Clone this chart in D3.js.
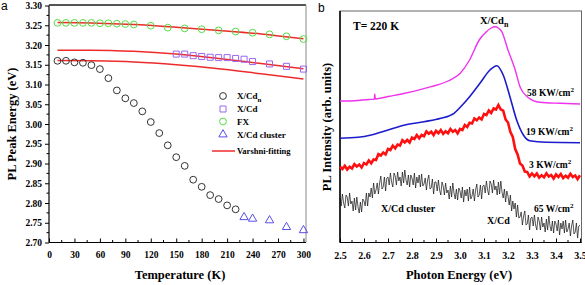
<!DOCTYPE html>
<html>
<head>
<meta charset="utf-8">
<script src="https://cdn.jsdelivr.net/npm/d3@7"></script>
<style>
  body { margin: 0; background: #fff; }
  text { font-family: "Liberation Serif", "Times New Roman", serif; font-weight: bold; }
</style>
</head>
<body>
<svg width="585" height="285"></svg>
<script>
// ---- panel a data (Temperature K, PL peak energy eV) ----
var cdnT = [10,20,30,40,50,60,70,80,90,100,110,120,130,140,150,160,170,180,190,200,210,220];
var cdnE = [3.160,3.160,3.156,3.155,3.149,3.139,3.116,3.085,3.065,3.053,3.032,3.005,2.977,2.946,2.916,2.894,2.859,2.841,2.820,2.810,2.794,2.784];
var cdT = [150,160,170,180,190,200,210,220,230,240,260,280,300];
var cdE = [3.177,3.177,3.173,3.171,3.169,3.168,3.168,3.166,3.164,3.158,3.152,3.146,3.139];
var fxT = [10,20,30,40,50,60,70,80,90,100,120,140,160,180,200,220,240,260,280,300];
var fxE = [3.256,3.256,3.256,3.256,3.256,3.255,3.255,3.254,3.253,3.252,3.249,3.244,3.242,3.240,3.237,3.234,3.231,3.227,3.222,3.215];
var clT = [230,240,260,280,300];
var clE = [2.764,2.760,2.756,2.739,2.731];
var fitT = [10,50,100,150,200,250,300];
var fitFX = [3.257,3.256,3.252,3.245,3.237,3.228,3.216];
var fitCd = [3.187,3.187,3.184,3.177,3.166,3.153,3.140];
var fitCdn = [3.161,3.160,3.157,3.150,3.140,3.127,3.114];
var tempTicks = [0,30,60,90,120,150,180,210,240,270,300];
var energyTicks = [2.70,2.75,2.80,2.85,2.90,2.95,3.00,3.05,3.10,3.15,3.20,3.25,3.30];

// ---- panel b data (photon energy eV, intensity arb. units) ----
var magE = [2.50,2.56,2.62,2.643,2.645,2.647,2.70,2.77,2.88,2.95,3.00,3.04,3.08,3.11,3.13,3.146,3.16,3.174,3.20,3.23,3.25,3.28,3.333,3.417,3.50];
var magI = [140,140.3,141.5,141.8,147,142,144.5,147.7,154.3,160,167.5,181,201,209.3,213,214.3,213,209.3,191,171,154.3,144.3,138.7,137.7,137];
var bluE = [2.50,2.575,2.63,2.70,2.77,2.85,2.92,2.975,3.00,3.04,3.083,3.125,3.153,3.18,3.208,3.236,3.264,3.29,3.36,3.50];
var bluI = [102.7,103.7,106,111,116,119.3,122.7,127.7,133.5,144.3,157.7,171,175.3,166,144.3,121,106,100.3,98.7,98.3];
// red trace sampled every 0.01 eV, 2.50 .. 3.50
var redI = [74.2,72,75.3,71.5,74.3,72.5,76.8,74.5,76.5,73.5,
            78,76.5,80.5,77.7,81.5,81,86.8,85.5,88.5,86.5,
            92,91,95.3,92.7,96.5,95.5,100.8,98.5,101,98.5,
            103.5,102,106,102.7,106,104.8,109.5,107.2,109.3,106,
            110.2,107.8,111,107.1,109.7,107.8,112,109.2,111,107.7,
            112,111,116,114,118.2,117.5,122.5,120.7,123.5,121.5,
            127,126,130.5,128,132.5,131.5,136,131.5,130.3,121.5,
            118.5,109,104,92,86.5,77.5,75.5,69.5,69,64.5,
            67.5,64.7,67.5,63.4,65.8,63.7,67.7,64.5,66,62.5,
            66.5,64,67,62.9,65.3,63.2,67.1,64,65.5,61.9,65.8];
// black trace sampled every 0.005 eV, 2.500 .. 3.500
var blkI = [43,35,47,38,33,46,44,35,48,37, 40,30,43,31,44,34,28,39,29,42,
            40,35,48,35,48,44,53,43,58,47, 51,58,47,58,65,52,54,64,50,63,
            64,56,68,59,54,68,65,56,69,60, 64,55,69,58,71,61,56,66,54,66,
            63,56,68,53,64,58,66,54,67,55, 57,63,51,61,66,52,53,62,47,59,
            59,50,61,51,46,59,55,46,58,48, 51,42,55,44,58,48,42,52,41,53,
            50,43,54,39,51,45,52,40,54,42, 45,52,40,51,57,44,46,56,42,55,
            56,48,60,51,46,60,57,48,61,51, 55,46,59,47,60,49,43,52,39,50,
            45,36,46,30,40,32,38,24,36,23, 24,29,16,25,30,16,17,26,11,23,
            24,15,26,16,11,24,20,11,24,14, 18,9,22,11,25,15,10,20,8,20,
            17,10,21,6,18,12,20,8,21,9, 12,18,5,15,21,7,9,18,3,15, 16];
var photonTicks = [2.5,2.6,2.7,2.8,2.9,3.0,3.1,3.2,3.3,3.4,3.5];

var svg = d3.select("svg");

function styleTicks(sel, size) {
  sel.selectAll("text").attr("font-size", size)
    .style("font-family", "Liberation Serif").style("font-weight", "bold").attr("fill", "#000");
}

// ================= panel a =================
var xa = d3.scaleLinear().domain([0, 303]).range([49, 306]);
var ya = d3.scaleLinear().domain([2.70, 3.30]).range([242.5, 5.5]);

// frame
svg.append("line").attr("x1", 49).attr("x2", 306).attr("y1", 5).attr("y2", 5)
  .attr("stroke", "#555").attr("stroke-width", 2);
svg.append("line").attr("x1", 306).attr("x2", 306).attr("y1", 5).attr("y2", 242.5)
  .attr("stroke", "#888").attr("stroke-width", 1);

// minor ticks
var ga = svg.append("g");
d3.range(15, 300, 30).forEach(function(t) {
  ga.append("line").attr("x1", xa(t)).attr("x2", xa(t)).attr("y1", 242.5).attr("y2", 240)
    .attr("stroke", "#000");
});
d3.range(2.725, 3.3, 0.05).forEach(function(v) {
  ga.append("line").attr("x1", 49).attr("x2", 46.5).attr("y1", ya(v)).attr("y2", ya(v))
    .attr("stroke", "#000");
});

svg.append("g").attr("transform", "translate(0,242.5)")
  .call(d3.axisBottom(xa).tickValues(tempTicks).tickSize(-4).tickPadding(9).tickFormat(d3.format("d")))
  .call(function(g) { g.select(".domain").attr("d", "M49,0H306").attr("stroke-width", 1.2); })
  .call(styleTicks, 9.5);

svg.append("g").attr("transform", "translate(49,0)")
  .call(d3.axisLeft(ya).tickValues(energyTicks).tickSize(4).tickPadding(3).tickFormat(d3.format(".2f")))
  .call(function(g) { g.select(".domain").attr("d", "M0,5.5V242.5").attr("stroke-width", 1.2); })
  .call(styleTicks, 9.5);

// fits
var fitLine = d3.line().curve(d3.curveMonotoneX)
  .x(function(d) { return xa(d[0]); }).y(function(d) { return ya(d[1]); });
[fitFX, fitCd, fitCdn].forEach(function(s) {
  svg.append("path").datum(d3.zip(fitT, s)).attr("d", fitLine)
    .attr("fill", "none").attr("stroke", "#ee2b2b").attr("stroke-width", 1.5);
});

function circles(ts, es, color) {
  svg.append("g").selectAll("circle").data(d3.zip(ts, es)).join("circle")
    .attr("cx", function(d) { return xa(d[0]); }).attr("cy", function(d) { return ya(d[1]); })
    .attr("r", 3.4).attr("fill", "none").attr("stroke", color).attr("stroke-width", 1);
}
function symbols(ts, es, type, size, color) {
  svg.append("g").selectAll("path").data(d3.zip(ts, es)).join("path")
    .attr("transform", function(d) { return "translate(" + xa(d[0]) + "," + ya(d[1]) + ")"; })
    .attr("d", d3.symbol().type(type).size(size))
    .attr("fill", "none").attr("stroke", color).attr("stroke-width", 1);
}
circles(cdnT, cdnE, "#333");
symbols(cdT, cdE, d3.symbolSquare, 36, "#9a66ee");
circles(fxT, fxE, "#55dd44");
symbols(clT, clE, d3.symbolTriangle, 30, "#5a4ee8");

// legend
var leg = svg.append("g").attr("font-size", 9);
leg.append("circle").attr("cx", 223).attr("cy", 96).attr("r", 3.4).attr("fill", "none").attr("stroke", "#333");
leg.append("path").attr("transform", "translate(223,109)").attr("d", d3.symbol().type(d3.symbolSquare).size(36))
  .attr("fill", "none").attr("stroke", "#9a66ee");
leg.append("circle").attr("cx", 223).attr("cy", 121.5).attr("r", 3.4).attr("fill", "none").attr("stroke", "#55dd44");
leg.append("path").attr("transform", "translate(223,134.5)").attr("d", d3.symbol().type(d3.symbolTriangle).size(30))
  .attr("fill", "none").attr("stroke", "#5a4ee8");
leg.append("line").attr("x1", 212).attr("x2", 235).attr("y1", 151).attr("y2", 151)
  .attr("stroke", "#ee2b2b").attr("stroke-width", 1.5);
var lt = leg.append("text").attr("x", 237).attr("y", 99);
lt.append("tspan").text("X/Cd");
lt.append("tspan").attr("dy", 2.5).attr("font-size", 7).text("n");
leg.append("text").attr("x", 237).attr("y", 112).text("X/Cd");
leg.append("text").attr("x", 237).attr("y", 124.5).text("FX");
leg.append("text").attr("x", 237).attr("y", 137.5).text("X/Cd cluster");
leg.append("text").attr("x", 237).attr("y", 154).attr("font-size", 8.5).text("Varshni-fitting");

svg.append("text").attr("x", 180).attr("y", 279).attr("text-anchor", "middle")
  .attr("font-size", 12.5).text("Temperature (K)");
svg.append("text").attr("transform", "translate(16,124) rotate(-90)").attr("text-anchor", "middle")
  .attr("font-size", 12.5).text("PL Peak Energy (eV)");
svg.append("text").attr("x", 1).attr("y", 10).attr("font-size", 12)
  .style("font-family", "Liberation Sans").style("font-weight", "normal").text("a");

// ================= panel b =================
var xb = d3.scaleLinear().domain([2.5, 3.5]).range([340, 580]);
var yb = d3.scaleLinear().domain([0, 230]).range([241, 11]);

svg.append("rect").attr("x", 340).attr("y", 11).attr("width", 241.5).attr("height", 231.5)
  .attr("fill", "none").attr("stroke", "#666").attr("stroke-width", 1);
svg.append("line").attr("x1", 340).attr("x2", 340).attr("y1", 11).attr("y2", 242.5)
  .attr("stroke", "#000").attr("stroke-width", 1.5);

var gb = svg.append("g");
d3.range(2.55, 3.5, 0.1).forEach(function(v) {
  gb.append("line").attr("x1", xb(v)).attr("x2", xb(v)).attr("y1", 242.5).attr("y2", 240)
    .attr("stroke", "#000");
});
svg.append("g").attr("transform", "translate(0,242.5)")
  .call(d3.axisBottom(xb).tickValues(photonTicks).tickSize(-4).tickPadding(9).tickFormat(d3.format(".1f")))
  .call(function(g) { g.select(".domain").attr("d", "M340,0H581.5").attr("stroke-width", 1.2); })
  .call(styleTicks, 10);

var redE = d3.range(0, 101).map(function(i) { return 2.5 + i / 100; });
var blkE = d3.range(0, 201).map(function(i) { return 2.5 + i / 200; });
var specLine = d3.line().x(function(d) { return xb(d[0]); }).y(function(d) { return yb(d[1]); });
var smoothLine = d3.line().curve(d3.curveMonotoneX).x(function(d) { return xb(d[0]); }).y(function(d) { return yb(d[1]); });

svg.append("path").datum(d3.zip(blkE, blkI)).attr("d", specLine)
  .attr("fill", "none").attr("stroke", "#111").attr("stroke-width", 0.7);
svg.append("path").datum(d3.zip(redE, redI)).attr("d", specLine)
  .attr("fill", "none").attr("stroke", "#ff1010").attr("stroke-width", 2.6);
svg.append("path").datum(d3.zip(bluE, bluI)).attr("d", smoothLine)
  .attr("fill", "none").attr("stroke", "#1c1ccc").attr("stroke-width", 1.6);
svg.append("path").datum(d3.zip(magE, magI)).attr("d", smoothLine)
  .attr("fill", "none").attr("stroke", "#ee33ee").attr("stroke-width", 1.4);

function powerLabel(x, y, txt) {
  var t = svg.append("text").attr("x", x).attr("y", y).attr("font-size", 9.5);
  t.append("tspan").text(txt);
  t.append("tspan").attr("dy", -4).attr("font-size", 7).text("2");
}
powerLabel(527, 96, "58 KW/cm");
powerLabel(526, 135, "19 KW/cm");
powerLabel(529, 168, "3 KW/cm");
powerLabel(534, 211.5, "65 W/cm");

var tn = svg.append("text").attr("x", 480).attr("y", 24).attr("font-size", 10.5);
tn.append("tspan").text("X/Cd");
tn.append("tspan").attr("dy", 3).attr("font-size", 8).text("n");
svg.append("text").attr("x", 487).attr("y", 224).attr("font-size", 10).text("X/Cd");
svg.append("text").attr("x", 381).attr("y", 212).attr("font-size", 10).text("X/Cd cluster");
svg.append("text").attr("x", 353).attr("y", 30).attr("font-size", 11.5).text("T= 220 K");

svg.append("text").attr("x", 459).attr("y", 279).attr("text-anchor", "middle")
  .attr("font-size", 12.5).text("Photon Energy (eV)");
svg.append("text").attr("transform", "translate(331,127) rotate(-90)").attr("text-anchor", "middle")
  .attr("font-size", 12.5).text("PL Intensity (arb. units)");
svg.append("text").attr("x", 318).attr("y", 12).attr("font-size", 12)
  .style("font-family", "Liberation Sans").style("font-weight", "normal").text("b");
</script>
</body>
</html>
